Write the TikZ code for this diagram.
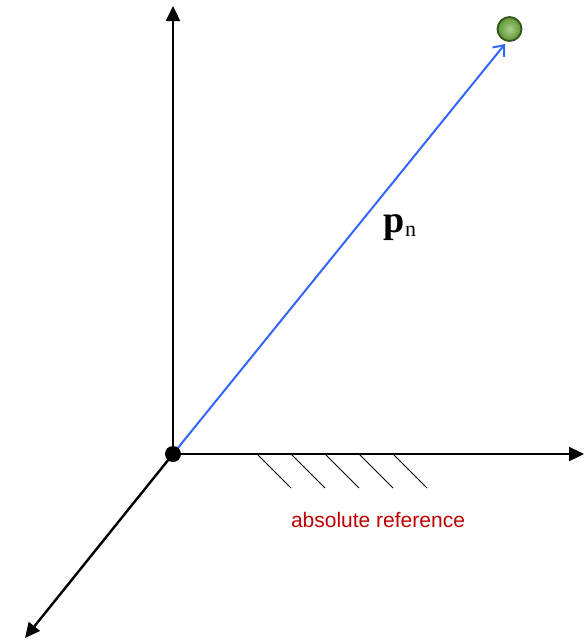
\documentclass[tikz,border=0pt]{standalone}
\usepackage{fontspec}
\setmainfont{Liberation Serif}
\newfontfamily\arialf{Liberation Sans}
\usetikzlibrary{arrows.meta}
\definecolor{vecblue}{RGB}{51,102,255}
\definecolor{labred}{RGB}{192,0,0}
\definecolor{ballgreen}{RGB}{110,175,60}
\definecolor{balldark}{RGB}{50,85,25}
\begin{document}
\begin{tikzpicture}[x=1pt,y=-1pt,
  axis/.style={line width=2.4pt,-{Triangle[length=15pt,width=14pt]}},
  hatch/.style={line width=0.8pt},
  vec/.style={vecblue,line width=2pt,-{Straight Barb[length=9pt,width=15pt,line width=2pt]}}]
\useasboundingbox (0,0) rectangle (586,640);
\coordinate (O) at (173,454);
\coordinate (zend) at (173,6);
\coordinate (xend) at (584,454);
\coordinate (yend) at (25,638);
\coordinate (ptip) at (505,44);
\draw[axis] (O) -- (zend);
\draw[axis] (O) -- (xend);
\draw[axis] (O) -- (yend);
\foreach \i in {0,...,4}{
  \coordinate (h\i a) at (257+34*\i,454);
  \coordinate (h\i b) at (291+34*\i,488);
  \draw[hatch] (h\i a) -- (h\i b);
}
\draw[vec] (O) -- (ptip);
\fill (O) circle (8pt);
\node[circle,draw=balldark,line width=1.8pt,inner sep=0pt,minimum size=24pt,
  inner color=ballgreen!60!white,outer color=ballgreen!85!black] (ball) at (509.5,29) {};
\node[text=labred,font=\arialf\fontsize{21}{25}\selectfont] (lab) at (378,520) {absolute reference};
\node (pn) at (400,228) {\fontsize{38}{44}\selectfont\textbf{p}\raisebox{-4pt}{\fontsize{22}{26}\selectfont n}};
\end{tikzpicture}
\end{document}
